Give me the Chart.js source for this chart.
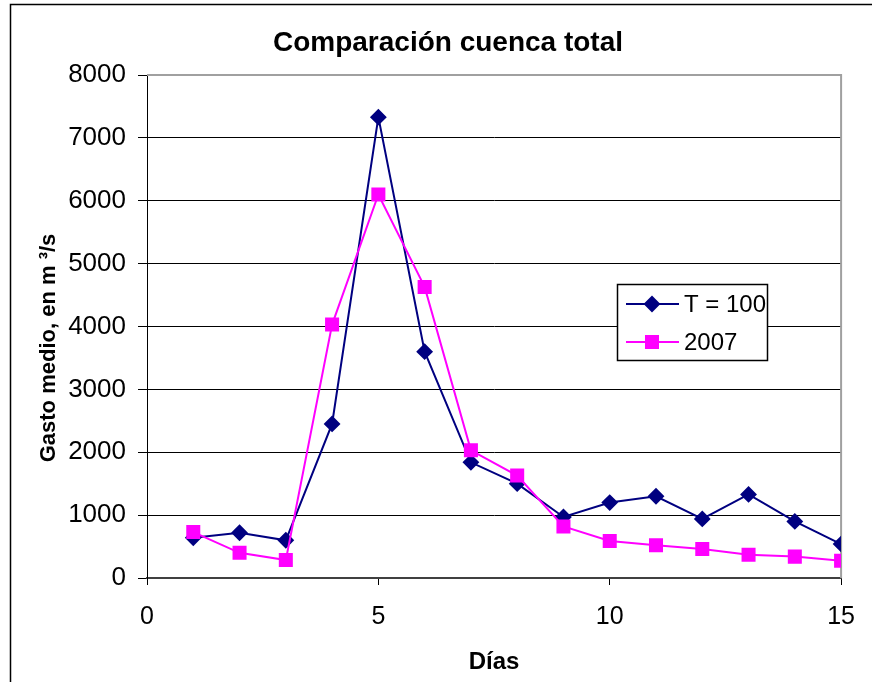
<!DOCTYPE html>
<html>
<head>
<meta charset="utf-8">
<script src="https://cdn.jsdelivr.net/npm/chart.js@4.4.1/dist/chart.umd.min.js"></script>
<style>
  html, body { margin: 0; padding: 0; background: #fff; }
  #wrap { width: 872px; height: 682px; }
</style>
</head>
<body>
<div id="wrap"><canvas id="chart" width="872" height="682"></canvas></div>
<script>
// data
var dias = [1, 2, 3, 4, 5, 6, 7, 8, 9, 10, 11, 12, 13, 14, 15];
var t100 = [640, 720, 600, 2450, 7330, 3600, 1840, 1500, 970, 1200, 1300, 940, 1330, 900, 540];
var anio2007 = [730, 400, 285, 4030, 6100, 4630, 2030, 1630, 820, 590, 520, 460, 370, 340, 275];
var yTicks = [0, 1000, 2000, 3000, 4000, 5000, 6000, 7000, 8000];
var xTicks = [0, 5, 10, 15];

var FONT = 'Arial, "Liberation Sans", sans-serif';
var TITLE = 'Comparación cuenca total';
var Y_TITLE = 'Gasto medio, en m ³/s';

function toPoints(xs, ys) {
    return xs.map(function (x, i) { return { x: x, y: ys[i] }; });
}

// outer frame, titles, grey plot border on top/right
var framePlugin = {
    id: 'frame',
    beforeDraw: function (chart) {
        var ctx = chart.ctx;
        ctx.save();
        ctx.fillStyle = '#fff';
        ctx.fillRect(0, 0, chart.width, chart.height);
        ctx.strokeStyle = '#000';
        ctx.lineWidth = 1.5;
        ctx.strokeRect(10.5, 4.5, 1000, 1000);

        ctx.fillStyle = '#000';
        ctx.textAlign = 'center';
        ctx.textBaseline = 'middle';
        ctx.font = 'bold 28px ' + FONT;
        ctx.fillText(TITLE, 448, 43);

        ctx.translate(49, 348);
        ctx.rotate(-Math.PI / 2);
        ctx.font = 'bold 22px ' + FONT;
        ctx.fillText(Y_TITLE, 0, 0);
        ctx.restore();
    },
    beforeDatasetsDraw: function (chart) {
        var a = chart.chartArea, ctx = chart.ctx;
        ctx.save();
        ctx.strokeStyle = '#a0a0a0';
        ctx.lineWidth = 2;
        ctx.beginPath();
        ctx.moveTo(a.left, a.top);
        ctx.lineTo(a.right, a.top);
        ctx.lineTo(a.right, a.bottom);
        ctx.stroke();
        ctx.restore();
    }
};

// legend box like the excel one
var boxLegend = {
    id: 'boxLegend',
    afterDraw: function (chart) {
        var ctx = chart.ctx;
        var bx = 617, by = 284, bw = 150, bh = 76;
        ctx.save();
        ctx.fillStyle = '#fff';
        ctx.fillRect(bx, by, bw, bh);
        ctx.strokeStyle = '#000';
        ctx.lineWidth = 1.5;
        ctx.strokeRect(bx + 0.5, by + 0.5, bw, bh);
        [0, 1].forEach(function (i) {
            var ds = chart.data.datasets[i];
            var y = by + 20 + i * 38;
            ctx.strokeStyle = ds.borderColor;
            ctx.lineWidth = 2;
            ctx.beginPath();
            ctx.moveTo(626, y);
            ctx.lineTo(679, y);
            ctx.stroke();
            ctx.fillStyle = ds.pointBackgroundColor;
            ctx.strokeStyle = ds.pointBorderColor;
            Chart.helpers.drawPoint(ctx, {
                pointStyle: ds.pointStyle,
                radius: ds.pointRadius,
                borderWidth: 1
            }, 652, y);
            ctx.fillStyle = '#000';
            ctx.font = '24px ' + FONT;
            ctx.textBaseline = 'middle';
            ctx.textAlign = 'left';
            ctx.fillText(ds.label, 684, y + 1);
        });
        ctx.restore();
    }
};

var plain = function (v) { return String(v); };

var ctx = document.getElementById('chart').getContext('2d');
var chart = new Chart(ctx, {
    type: 'line',
    data: {
        datasets: [{
            label: 'T = 100',
            data: toPoints(dias, t100),
            borderColor: '#000080',
            backgroundColor: '#000080',
            pointBackgroundColor: '#000080',
            pointBorderColor: '#000080',
            pointStyle: 'rectRot',
            pointRadius: 7,
            borderWidth: 2,
            order: 1
        }, {
            label: '2007',
            data: toPoints(dias, anio2007),
            borderColor: '#ff00ff',
            backgroundColor: '#ff00ff',
            pointBackgroundColor: '#ff00ff',
            pointBorderColor: '#ff00ff',
            pointStyle: 'rect',
            pointRadius: 8.5,
            borderWidth: 2,
            order: 0
        }]
    },
    options: {
        responsive: false,
        animation: false,
        layout: { padding: { left: 20, right: 27, top: 75, bottom: 0 } },
        plugins: {
            legend: { display: false },
            tooltip: { enabled: false },
            title: { display: false }
        },
        scales: {
            x: {
                type: 'linear',
                min: 0,
                max: 15,
                afterFit: function (s) { s.height = 104; },
                afterBuildTicks: function (s) { s.ticks = xTicks.map(function (v) { return { value: v }; }); },
                grid: { drawOnChartArea: false, color: '#000', tickLength: 7, lineWidth: 1 },
                border: { color: '#404040', width: 2 },
                ticks: { color: '#000', padding: 17, font: { family: FONT, size: 25 }, maxRotation: 0, callback: plain },
                title: {
                    display: true,
                    text: 'Días',
                    color: '#000',
                    font: { family: FONT, size: 24, weight: 'bold' },
                    padding: { top: 0, bottom: 5 }
                }
            },
            y: {
                min: 0,
                max: 8000,
                afterFit: function (s) { s.width = 127; },
                afterBuildTicks: function (s) { s.ticks = yTicks.map(function (v) { return { value: v }; }); },
                grid: { color: '#000', tickLength: 9, lineWidth: 1 },
                border: { color: '#000', width: 1 },
                ticks: { color: '#000', padding: 12, font: { family: FONT, size: 26 }, callback: plain },
                title: { display: false }
            }
        }
    },
    plugins: [framePlugin, boxLegend]
});
</script>
</body>
</html>
